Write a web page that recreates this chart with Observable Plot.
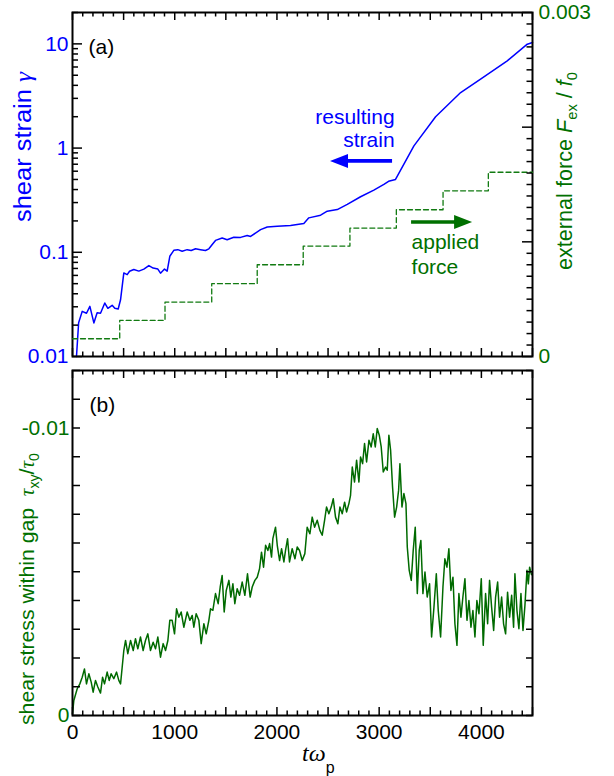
<!DOCTYPE html>
<html><head><meta charset="utf-8">
<script src="https://cdn.jsdelivr.net/npm/d3@7"></script>
<script src="https://cdn.jsdelivr.net/npm/@observablehq/plot@0.6"></script>
<style>
body{margin:0;background:#fff;}
#wrap{position:relative;width:614px;height:776px;}
#wrap svg{position:absolute;left:0;}
</style></head><body>
<div id="wrap"></div>
<script>
// ---- data ----
// (a) shear strain gamma vs t*omega_p  [t, gamma]
const strain = [
 [39,0.0100],[60,0.0211],[95,0.0271],[137,0.026],[170,0.0303],[209,0.021],[241,0.0263],[274,0.026],
 [316,0.0326],[346,0.029],[388,0.031],[414,0.029],[447,0.0286],[470,0.035],[502,0.0634],[535,0.061],
 [558,0.0657],[600,0.0683],[649,0.066],[698,0.069],[747,0.0745],[789,0.0706],[835,0.069],[861,0.063],
 [900,0.069],[926,0.066],[952,0.0916],[991,0.1045],[1030,0.106],[1073,0.1024],[1122,0.106],[1161,0.104],
 [1204,0.108],[1252,0.106],[1301,0.104],[1334,0.108],[1367,0.1186],[1399,0.130],[1464,0.137],[1513,0.132],
 [1578,0.1396],[1644,0.139],[1709,0.145],[1742,0.142],[1840,0.165],[1905,0.175],[2003,0.178],[2133,0.181],
 [2263,0.189],[2312,0.214],[2427,0.227],[2492,0.248],[2590,0.257],[2688,0.288],[2818,0.341],[2948,0.395],
 [3046,0.448],[3092,0.48],[3160,0.50],[3340,1.05],[3552,2.0],[3797,3.41],[3992,4.58],[4253,6.87],[4449,9.93],[4500,10.3]
];
// (a) applied external force F_ex/f0, staircase  [t, F]
const force = [
 [0,0.000155],[462,0.000315],[905,0.000475],[1362,0.000635],[1807,0.0008],[2257,0.000963],
 [2714,0.00112],[3168,0.00128],[3625,0.001445],[4068,0.001607],[4500,0.001607]
];
// (b) shear stress within gap tau_xy/tau0  [t, tau]
const stress = [
 [0,-0.00006],[13,-0.00052],[46,-0.00093],[72,-0.00110],[95,-0.00133],[117,-0.00162],[137,-0.00110],[160,-0.00145],
 [183,-0.00116],[202,-0.00081],[225,-0.00122],[248,-0.00099],[274,-0.00078],[294,-0.00133],[313,-0.00110],[339,-0.00151],
 [359,-0.00122],[378,-0.00145],[404,-0.00128],[431,-0.00151],[453,-0.00122],[470,-0.00110],[486,-0.00168],[502,-0.00226],
 [519,-0.00261],[541,-0.00215],[568,-0.00261],[594,-0.00226],[616,-0.00267],[639,-0.00232],[665,-0.00273],[691,-0.00226],
 [714,-0.00261],[737,-0.00284],[763,-0.00226],[789,-0.00255],[812,-0.00232],[835,-0.00273],[861,-0.00203],[887,-0.00250],
 [910,-0.00226],[933,-0.00261],[952,-0.00331],[975,-0.00331],[998,-0.00284],[1018,-0.00371],[1040,-0.00342],[1063,-0.00360],
 [1089,-0.00307],[1122,-0.00360],[1148,-0.00331],[1171,-0.00348],[1187,-0.00307],[1210,-0.00354],[1236,-0.00331],[1259,-0.00250],
 [1285,-0.00319],[1308,-0.00284],[1334,-0.00331],[1350,-0.00371],[1373,-0.00366],[1399,-0.00424],[1425,-0.00389],[1445,-0.00447],
 [1464,-0.00487],[1484,-0.00360],[1504,-0.00435],[1530,-0.00470],[1549,-0.00412],[1569,-0.00458],[1588,-0.00389],[1611,-0.00441],
 [1634,-0.00418],[1660,-0.00464],[1686,-0.00418],[1712,-0.00493],[1738,-0.00412],[1758,-0.00447],[1784,-0.00470],[1807,-0.00481],
 [1830,-0.00511],[1849,-0.00568],[1869,-0.00516],[1889,-0.00592],[1911,-0.00574],[1928,-0.00598],[1947,-0.00551],[1960,-0.00615],
 [1986,-0.00655],[2003,-0.00592],[2026,-0.00539],[2045,-0.00580],[2068,-0.00534],[2084,-0.00574],[2104,-0.00615],[2123,-0.00534],
 [2149,-0.00580],[2176,-0.00545],[2198,-0.00586],[2221,-0.00574],[2247,-0.00539],[2273,-0.00563],[2296,-0.00655],[2322,-0.00632],
 [2345,-0.00690],[2368,-0.00655],[2394,-0.00679],[2420,-0.00644],[2443,-0.00627],[2466,-0.00679],[2485,-0.00725],[2508,-0.00702],
 [2531,-0.00725],[2551,-0.00754],[2573,-0.00690],[2596,-0.00667],[2616,-0.00725],[2639,-0.00702],[2662,-0.00742],[2681,-0.00708],
 [2704,-0.00737],[2720,-0.00766],[2737,-0.00864],[2759,-0.00812],[2779,-0.00888],[2802,-0.00812],[2818,-0.00899],[2838,-0.00876],
 [2857,-0.00946],[2877,-0.00882],[2900,-0.00957],[2922,-0.00934],[2942,-0.00980],[2962,-0.00934],[2981,-0.00998],[3001,-0.00975],
 [3020,-0.00934],[3040,-0.00847],[3063,-0.00864],[3079,-0.00853],[3095,-0.00975],[3112,-0.00922],[3131,-0.00795],[3151,-0.00690],
 [3171,-0.00725],[3190,-0.00783],[3203,-0.00876],[3223,-0.00725],[3242,-0.00772],[3262,-0.00737],[3275,-0.00586],[3294,-0.00505],
 [3314,-0.00470],[3333,-0.00574],[3353,-0.00655],[3373,-0.00424],[3392,-0.00574],[3408,-0.00609],[3428,-0.00424],[3448,-0.00499],
 [3470,-0.00412],[3493,-0.00458],[3513,-0.00273],[3536,-0.00377],[3559,-0.00493],[3578,-0.00365],[3601,-0.00273],[3624,-0.00447],
 [3643,-0.00545],[3663,-0.00516],[3682,-0.00580],[3702,-0.00435],[3722,-0.00481],[3741,-0.00319],[3761,-0.00244],[3780,-0.00424],
 [3800,-0.00342],[3819,-0.00412],[3839,-0.00476],[3859,-0.00331],[3878,-0.00400],[3898,-0.00307],[3917,-0.00365],[3937,-0.00273],
 [3956,-0.00400],[3976,-0.00354],[3999,-0.00476],[4018,-0.00244],[4041,-0.00424],[4061,-0.00319],[4080,-0.00470],[4100,-0.00377],
 [4120,-0.00296],[4139,-0.00412],[4159,-0.00464],[4178,-0.00342],[4198,-0.00412],[4217,-0.00319],[4237,-0.00284],[4256,-0.00429],
 [4276,-0.00342],[4296,-0.00418],[4315,-0.00307],[4328,-0.00493],[4348,-0.00365],[4367,-0.00302],[4387,-0.00424],[4407,-0.00296],
 [4426,-0.00383],[4446,-0.00505],[4459,-0.00458],[4472,-0.00516],[4490,-0.00490]
];
// tick labels
const xTickLabels = [0, 1000, 2000, 3000, 4000];
const strainTickLabels = [0.01, 0.1, 1, 10];
const forceTickLabels = [0, 0.003];
const stressTickLabels = [0, -0.01];

// ---- styles / layout ----
const BLUE = "#0000ff", GREEN = "#007000", GREEN_LINE = "#006a00";
const FONT = '"Liberation Sans", Arial, Helvetica, sans-serif';
const SERIF = '"Liberation Serif", "Times New Roman", serif';
const W = 614, ML = 72, MR = 82, FW = W - ML - MR;
const TK = {stroke: "black", strokeWidth: 1.5};
const FS = 21;

function xTickMarks(FH) {
  const all = d3.range(0, 4501, 100);
  const major = all.filter(d => d % 500 === 0), minor = all.filter(d => d % 500 !== 0);
  return [
    Plot.tickX(major, {x: d => d, insetTop: FH - 8, ...TK}),
    Plot.tickX(major, {x: d => d, insetBottom: FH - 8, ...TK}),
    Plot.tickX(minor, {x: d => d, insetTop: FH - 4.5, ...TK}),
    Plot.tickX(minor, {x: d => d, insetBottom: FH - 4.5, ...TK})
  ];
}
const logMajor = [0.01, 0.1, 1, 10];
const logMinor = [];
for (const dec of [0.01, 0.1, 1, 10]) for (let k = 2; k <= 9; k++) if (k * dec <= 20) logMinor.push(k * dec);

function arrow(svg, x0, x1, y, color) {
  const dir = Math.sign(x1 - x0), hl = 18, hw = 7, sw = 1.8, xb = x1 - dir * hl;
  d3.select(svg).append("path")
    .attr("d", `M${x1},${y}L${xb},${y - hw}L${xb},${y - sw}L${x0},${y - sw}L${x0},${y + sw}L${xb},${y + sw}L${xb},${y + hw}Z`)
    .attr("fill", color);
}

const topOpts = {width: W, height: 372, marginLeft: ML, marginRight: MR, marginTop: 12, marginBottom: 16};

// ---- panel (a), log axis: shear strain ----
const plotA = Plot.plot({
  ...topOpts,
  style: {fontFamily: FONT, fontSize: FS + "px", background: "transparent", top: "0px"},
  x: {domain: [0, 4500], axis: null},
  y: {type: "log", domain: [0.01, 20], axis: null},
  marks: [
    Plot.line(strain, {x: d => d[0], y: d => d[1], stroke: BLUE, strokeWidth: 1.5}),
    ...xTickMarks(344),
    Plot.tickY(logMajor, {y: d => d, insetRight: FW - 10, ...TK}),
    Plot.tickY(logMinor, {y: d => d, insetRight: FW - 6, ...TK}),
    Plot.axisY(strainTickLabels, {anchor: "left", tickSize: 0, tickPadding: 4, tickFormat: d => String(d), color: BLUE, fill: BLUE, fontSize: FS, label: null}),
    Plot.frame({stroke: "black", strokeWidth: 2}),
    Plot.text(["(a)"], {frameAnchor: "top-left", dx: 16, dy: 27, textAnchor: "start", fontSize: FS, fill: "black"}),
    Plot.text(["resulting"], {x: 3151, y: 1.98, textAnchor: "end", fontSize: 21, fill: BLUE}),
    Plot.text(["strain"], {x: 3151, y: 1.2, textAnchor: "end", fontSize: 21, fill: BLUE})
  ]
});

// ---- panel (a) overlay, linear right axis: applied force ----
const plotB = Plot.plot({
  ...topOpts,
  style: {fontFamily: FONT, fontSize: FS + "px", background: "transparent", top: "0px"},
  x: {domain: [0, 4500], axis: null},
  y: {domain: [0, 0.003], axis: null},
  marks: [
    Plot.line(force, {x: d => d[0], y: d => d[1], curve: "step-after", stroke: "#117a11", strokeWidth: 1.3, strokeDasharray: "5,3"}),
    Plot.tickY(d3.range(0, 31).filter(i => i % 10 === 0).map(i => i / 10000), {y: d => d, insetLeft: FW - 10, ...TK}),
    Plot.tickY(d3.range(0, 31).filter(i => i % 10 !== 0).map(i => i / 10000), {y: d => d, insetLeft: FW - 5.5, ...TK}),
    Plot.axisY(forceTickLabels, {anchor: "right", tickSize: 0, tickPadding: 6, tickFormat: d => d === 0 ? "0" : "0.003", color: GREEN, fill: GREEN, fontSize: FS, label: null}),
    Plot.text(["applied"], {x: 3317, y: 0.000997, textAnchor: "start", fontSize: 21, fill: GREEN}),
    Plot.text(["force"], {x: 3317, y: 0.000782, textAnchor: "start", fontSize: 21, fill: GREEN})
  ]
});

// ---- panel (b): shear stress ----
const plotC = Plot.plot({
  width: W, height: 416, marginLeft: ML, marginRight: MR, marginTop: 10, marginBottom: 61,
  style: {fontFamily: FONT, fontSize: FS + "px", background: "transparent", top: "360px"},
  x: {domain: [0, 4500], axis: null},
  y: {domain: [0, -0.012], axis: null},
  marks: [
    Plot.line(stress, {x: d => d[0], y: d => d[1], stroke: GREEN_LINE, strokeWidth: 1.5}),
    ...xTickMarks(345),
    Plot.tickY(d3.range(0, 13).map(i => -i / 1000), {y: d => d, insetRight: FW - 8, ...TK}),
    Plot.tickY(d3.range(0, 13).map(i => -i / 1000), {y: d => d, insetLeft: FW - 6, ...TK}),
    Plot.axisY(stressTickLabels, {anchor: "left", tickSize: 0, tickPadding: 3, tickFormat: d => d === 0 ? "0" : "-0.01", color: GREEN, fill: GREEN, fontSize: FS, label: null}),
    Plot.axisX(xTickLabels, {anchor: "bottom", tickSize: 0, tickPadding: 9, tickFormat: d => String(d), color: "black", fill: "black", fontSize: FS, label: null}),
    Plot.frame({stroke: "black", strokeWidth: 2}),
    Plot.text(["(b)"], {frameAnchor: "top-left", dx: 17, dy: 27, textAnchor: "start", fontSize: FS, fill: "black"})
  ]
});

document.getElementById("wrap").append(plotC, plotA, plotB);

// arrows (positions through the plots' scales)
{
  const sx = plotA.scale("x"), sy = plotA.scale("y");
  arrow(plotA, sx.apply(3131), sx.apply(2524), sy.apply(0.745), BLUE);
  const bx = plotB.scale("x"), by = plotB.scale("y");
  arrow(plotB, bx.apply(3317), bx.apply(3914), by.apply(0.001169), "#007000");
}

// axis titles
function title(svg, x, y, color, size, len, parts) {
  const t = d3.select(svg).append("text")
    .attr("transform", `translate(${x},${y}) rotate(-90)`)
    .attr("fill", color).attr("font-size", size).attr("font-family", FONT).attr("text-anchor", "start")
    .attr("textLength", len).attr("lengthAdjust", "spacingAndGlyphs");
  for (const p of parts) {
    const s = t.append("tspan").text(p.t);
    if (p.italic) s.attr("font-style", "italic");
    if (p.serif) s.attr("font-family", SERIF);
    if (p.size) s.attr("font-size", p.size);
    if (p.dy) s.attr("dy", p.dy);
  }
}
title(plotA, 31, 222, BLUE, 23, 150, [{t: "shear strain "}, {t: "γ", italic: true, serif: true}]);
title(plotB, 572, 270, GREEN, 22, 198, [{t: "external force "}, {t: "F", italic: true},
  {t: "ex", size: 15, dy: 5}, {t: " / ", dy: -5}, {t: "f", italic: true}, {t: "0", size: 15, dy: 5}]);
title(plotC, 34, 365, GREEN, 21, 272, [{t: "shear stress within gap  "}, {t: "τ", italic: true, serif: true},
  {t: "xy", size: 14, dy: 5}, {t: "/", dy: -5}, {t: "τ", italic: true, serif: true}, {t: "0", size: 14, dy: 5}]);
{
  const t = d3.select(plotC).append("text").attr("x", 302).attr("y", 401).attr("fill", "black")
    .attr("font-family", FONT).attr("text-anchor", "start");
  t.append("tspan").attr("font-family", SERIF).attr("font-style", "italic").attr("font-size", 24).text("tω");
  t.append("tspan").attr("font-size", 16).attr("dy", 12).text("p");
}
</script>
</body></html>
